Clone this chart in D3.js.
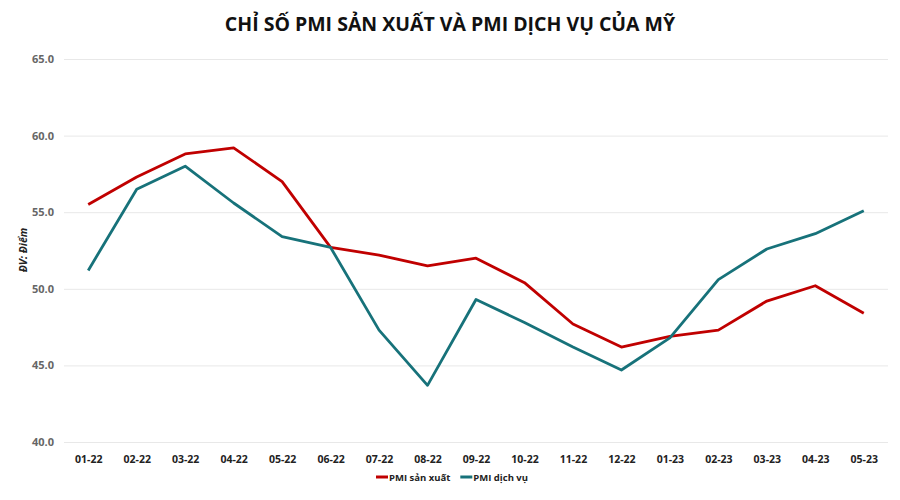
<!DOCTYPE html>
<html>
<head>
<meta charset="utf-8">
<script src="https://cdn.jsdelivr.net/npm/d3@7"></script>
<style>
  body { margin: 0; background: #fff; }
  text { font-family: "Open Sans", "Noto Sans", sans-serif; }
</style>
</head>
<body>
<div id="chart"></div>
<script>
// Data
const months = ["01-22", "02-22", "03-22", "04-22", "05-22", "06-22", "07-22", "08-22", "09-22",
                "10-22", "11-22", "12-22", "01-23", "02-23", "03-23", "04-23", "05-23"];
const pmiSanXuat = [55.5, 57.3, 58.8, 59.2, 57.0, 52.7, 52.2, 51.5, 52.0, 50.4, 47.7, 46.2, 46.9, 47.3, 49.2, 50.2, 48.4];
const pmiDichVu = [51.2, 56.5, 58.0, 55.6, 53.4, 52.7, 47.3, 43.7, 49.3, 47.8, 46.2, 44.7, 46.8, 50.6, 52.6, 53.6, 55.1];
const yTicks = [40, 45, 50, 55, 60, 65];
const seriesNames = ["PMI sản xuất", "PMI dịch vụ"];
const colors = ["#C00000", "#17727A"];

const totalWidth = 900, totalHeight = 500;
const margin = { top: 59, right: 12, bottom: 58, left: 64 };
const width = totalWidth - margin.left - margin.right;
const height = totalHeight - margin.top - margin.bottom;

const svgRoot = d3.select("#chart").append("svg")
    .attr("width", totalWidth)
    .attr("height", totalHeight);

svgRoot.append("text")
    .attr("x", 450).attr("y", 31)
    .attr("text-anchor", "middle")
    .attr("font-size", 19.5)
    .attr("font-weight", "bold")
    .attr("fill", "#111")
    .text("CHỈ SỐ PMI SẢN XUẤT VÀ PMI DỊCH VỤ CỦA MỸ");

const svg = svgRoot.append("g")
    .attr("transform", `translate(${margin.left},${margin.top})`);

const x = d3.scalePoint().domain(months).range([0, width]).padding(0.5);
const y = d3.scaleLinear().domain([40, 65]).range([height, 0]);

// gridlines + y labels
const yAxis = svg.append("g")
    .call(d3.axisLeft(y).tickValues(yTicks).tickSize(-width).tickFormat(d3.format(".1f")));
yAxis.select(".domain").remove();
yAxis.selectAll("line").attr("stroke", "#e8e8e8");
yAxis.selectAll("text")
    .attr("x", -10)
    .attr("font-size", 11)
    .attr("font-weight", "bold")
    .attr("fill", "#666");

// x labels
const xAxis = svg.append("g")
    .attr("transform", `translate(0,${height})`)
    .call(d3.axisBottom(x).tickSize(0).tickPadding(14));
xAxis.select(".domain").remove();
xAxis.selectAll("text")
    .attr("font-size", 10.5)
    .attr("font-weight", "bold")
    .attr("fill", "#222");

// y axis title
svgRoot.append("text")
    .attr("transform", "translate(27,250) rotate(-90)")
    .attr("text-anchor", "middle")
    .attr("font-size", 10.5)
    .attr("font-weight", "bold")
    .attr("font-style", "italic")
    .attr("fill", "#222")
    .text("ĐV: Điểm");

// lines
[pmiSanXuat, pmiDichVu].forEach((vals, i) => {
    svg.append("path")
        .datum(vals)
        .attr("fill", "none")
        .attr("stroke", colors[i])
        .attr("stroke-width", 2.8)
        .attr("stroke-linejoin", "round")
        .attr("d", d3.line()
            .x((d, j) => x(months[j]))
            .y(d => y(d)));
});

// legend
const legend = svgRoot.append("g").attr("transform", "translate(376,477)");
let lx = 0;
seriesNames.forEach((name, i) => {
    const g = legend.append("g").attr("transform", `translate(${lx},0)`);
    g.append("line")
        .attr("x1", 0).attr("x2", 12)
        .attr("stroke", colors[i]).attr("stroke-width", 3);
    const t = g.append("text")
        .attr("x", 13).attr("y", 3.5)
        .attr("font-size", 9.5)
        .attr("font-weight", "bold")
        .attr("fill", "#222")
        .text(name);
    lx += 13 + t.node().getComputedTextLength() + 10;
});
</script>
</body>
</html>
